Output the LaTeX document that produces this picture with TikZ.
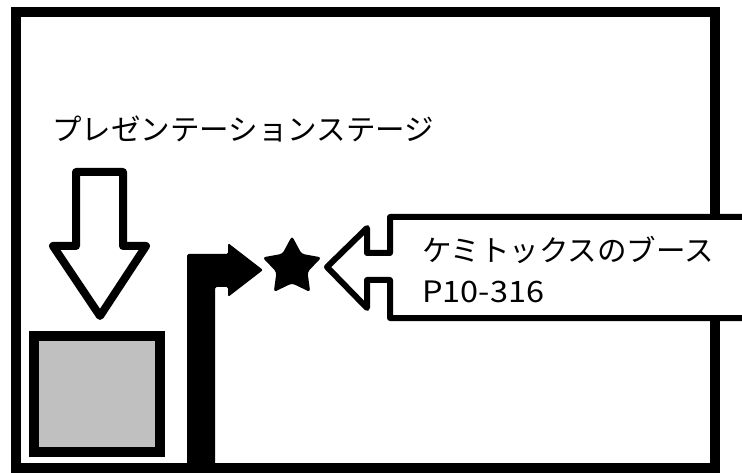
\documentclass[tikz,border=0pt]{standalone}
\usepackage{fontspec}
\newfontfamily\jpfont{Noto Sans CJK JP}
\usetikzlibrary{shapes.geometric}
\begin{document}
\begin{tikzpicture}[x=1pt,y=-1pt,
  label text/.style={anchor=west,inner sep=0,font=\jpfont\fontsize{29.5}{30}\selectfont},
  outline arrow/.style={draw,fill=white,line join=round}]
\useasboundingbox (0,0) rectangle (742,473);
% Hall outline
\draw[line width=10] (16,12) rectangle (715,468);

% Booth callout, reaches past the right edge
\begin{scope}
\clip (0,0) rectangle (742,473);
\draw[outline arrow,line width=6] (390,217) -- (760,217) -- (760,318) -- (390,318) -- (390,280)
  -- (367,280) -- (367,308) -- (327,267) -- (367,228) -- (367,253) -- (390,253) -- cycle;
\end{scope}
\node[label text] (boothname) at (422,250) {ケミトックスのブース};
\node[label text,xscale=1.1] (boothcode) at (422,292) {P10-316};

% Route from the entrance to the booth
\fill[rounded corners=1.5] (187,473) -- (187,254) -- (228,254) -- (228,243) -- (263,270)
  -- (228,297) -- (228,287) -- (215,287) -- (215,473) -- cycle;
\node[star,star points=5,star point ratio=1.9,fill,minimum size=62,inner sep=0,
  rounded corners=3] (booth) at (292,267) {};

% Presentation stage
\node[label text] (stagename) at (52,129) {プレゼンテーションステージ};
\draw[outline arrow,line width=8] (76,172) -- (123,172) -- (123,246) -- (146,246) -- (100,316)
  -- (53,246) -- (76,246) -- cycle;
\draw[line width=10,fill={rgb,255:red,192;green,192;blue,192}] (34,336) rectangle (160,452);
\end{tikzpicture}
\end{document}
